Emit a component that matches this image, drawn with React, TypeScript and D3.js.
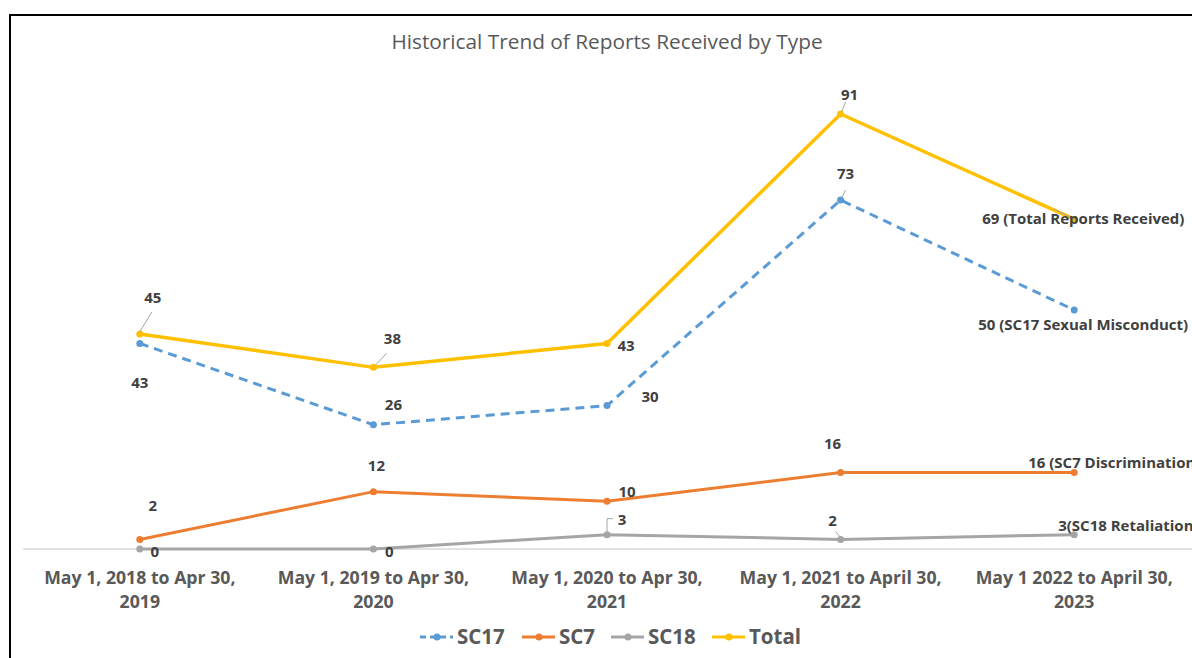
import React, { useRef, useEffect } from "react";
import * as d3 from "d3";

const categories = [
  ["May 1, 2018 to Apr 30,", "2019"],
  ["May 1, 2019 to Apr 30,", "2020"],
  ["May 1, 2020 to Apr 30,", "2021"],
  ["May 1, 2021 to April 30,", "2022"],
  ["May 1 2022 to April 30,", "2023"],
];

const sc17 = [43, 26, 30, 73, 50];
const sc7 = [2, 12, 10, 16, 16];
const sc18 = [0, 0, 3, 2, 3];
const total = [45, 38, 43, 91, 69];

const seriesNames = ["SC17", "SC7", "SC18", "Total"];
const lastLabels = [
  "50 (SC17 Sexual Misconduct)",
  "16 (SC7 Discrimination)",
  "3(SC18 Retaliation)",
  "69 (Total Reports Received)",
];

// label offsets relative to each point (dx, dy), text centered
const labelOffsets = {
  SC17: [[0, 40], [20, -20], [43, -9], [5, -26]],
  SC7: [[13, -33], [3, -26], [20, -9], [-8, -29]],
  SC18: [[15, 3], [16, 3], [15, -15], [-8, -18]],
  Total: [[13, -36], [19, -28], [19, 3], [9, -19]],
};
// end labels, start-anchored
const lastOffsets = {
  SC17: [-96, 15],
  SC7: [-46, -10],
  SC18: [-16, -9],
  Total: [-92, 0],
};

const App = () => {
  const ref = useRef<SVGSVGElement>(null);

  useEffect(() => {
    const svg = d3.select(ref.current);
    svg.selectAll("*").remove();

    const width = 1192;
    const height = 658;
    const font = "'Open Sans', 'Noto Sans', sans-serif";

    svg.attr("width", width).attr("height", height);

    svg
      .append("rect")
      .attr("width", width)
      .attr("height", height)
      .attr("fill", "#fff");

    // outer frame
    svg
      .append("rect")
      .attr("x", 10)
      .attr("y", 15)
      .attr("width", width + 20)
      .attr("height", height + 20)
      .attr("fill", "none")
      .attr("stroke", "#000")
      .attr("stroke-width", 2);

    const x = d3
      .scaleBand()
      .domain(categories.map((c, i) => String(i)))
      .range([23, 1191]);

    const cx = (i) => x(String(i)) + x.bandwidth() / 2;

    const y = d3.scaleLinear().domain([0, 100]).range([549, 71]);

    svg
      .append("text")
      .attr("x", 607)
      .attr("y", 49)
      .attr("text-anchor", "middle")
      .attr("font-family", font)
      .attr("font-size", "20.8px")
      .attr("fill", "#595959")
      .text("Historical Trend of Reports Received by Type");

    // axis line
    svg
      .append("line")
      .attr("x1", 23)
      .attr("x2", width)
      .attr("y1", y(0))
      .attr("y2", y(0))
      .attr("stroke", "#d9d9d9")
      .attr("stroke-width", 1.5);

    // category labels
    const cat = svg.append("g");
    categories.forEach((lines, i) => {
      lines.forEach((line, j) => {
        cat
          .append("text")
          .attr("x", cx(i))
          .attr("y", 584 + j * 24)
          .attr("text-anchor", "middle")
          .attr("font-family", font)
          .attr("font-size", "17.7px")
          .attr("font-weight", "bold")
          .attr("fill", "#595959")
          .text(line);
      });
    });

    const series = [
      { name: "SC17", values: sc17, color: "#5B9BD5", dash: "9,6", w: 3 },
      { name: "SC7", values: sc7, color: "#ED7D31", dash: null, w: 3 },
      { name: "SC18", values: sc18, color: "#A5A5A5", dash: null, w: 3 },
      { name: "Total", values: total, color: "#FFC000", dash: null, w: 3.5 },
    ];

    const line = d3
      .line<number>()
      .x((d, i) => cx(i))
      .y((d) => y(d));

    // draw SC18 first, then SC7, SC17, Total on top
    [2, 1, 0, 3].forEach((k) => {
      const s = series[k];
      const g = svg.append("g");
      g.append("path")
        .attr("d", line(s.values))
        .attr("fill", "none")
        .attr("stroke", s.color)
        .attr("stroke-width", s.w)
        .attr("stroke-dasharray", s.dash);
      g.selectAll("circle")
        .data(s.values)
        .join("circle")
        .attr("cx", (d, i) => cx(i))
        .attr("cy", (d) => y(d))
        .attr("r", 3.5)
        .attr("fill", s.color);
    });

    // leader lines
    const leaders = [
      [cx(0), y(45) - 2, cx(0) + 12, y(45) - 22],
      [cx(1) + 2, y(38) - 2, cx(1) + 13, y(38) - 14],
      [cx(3) + 1, y(91) - 2, cx(3) + 5, y(91) - 12],
      [cx(3) + 1, y(73) - 2, cx(3) + 5, y(73) - 10],
      [cx(3) - 5, y(2) - 8, cx(3) - 1, y(2) - 3],
      [cx(4) - 20, y(69) - 10, cx(4) + 2, y(69) + 1],
    ];
    svg
      .append("g")
      .selectAll("line")
      .data(leaders)
      .join("line")
      .attr("x1", (d) => d[0])
      .attr("y1", (d) => d[1])
      .attr("x2", (d) => d[2])
      .attr("y2", (d) => d[3])
      .attr("stroke", "#a6a6a6")
      .attr("stroke-width", 1);
    svg
      .append("path")
      .attr("d", `M${cx(2)},${y(3) - 3}V${y(3) - 16}H${cx(2) + 6}`)
      .attr("fill", "none")
      .attr("stroke", "#a6a6a6")
      .attr("stroke-width", 1);

    // data labels
    const labels = svg.append("g");
    series.forEach((s, k) => {
      s.values.forEach((v, i) => {
        const last = i === s.values.length - 1;
        const off = last ? lastOffsets[s.name] : labelOffsets[s.name][i];
        labels
          .append("text")
          .attr("x", cx(i) + off[0])
          .attr("y", y(v) + off[1] + 5)
          .attr("text-anchor", last ? "start" : "middle")
          .attr("font-family", font)
          .attr("font-size", "15px")
          .attr("font-weight", "bold")
          .attr("fill", "#404040")
          .text(last ? lastLabels[k] : String(v));
      });
    });

    // legend
    const legendX = [420, 522, 611, 712];
    const leg = svg.append("g");
    series.forEach((s, k) => {
      const lx = legendX[k];
      const ly = 637;
      leg
        .append("line")
        .attr("x1", lx)
        .attr("x2", lx + 33)
        .attr("y1", ly)
        .attr("y2", ly)
        .attr("stroke", s.color)
        .attr("stroke-width", 3)
        .attr("stroke-dasharray", s.dash ? "6,4" : null);
      leg
        .append("circle")
        .attr("cx", lx + 17)
        .attr("cy", ly)
        .attr("r", 3.5)
        .attr("fill", s.color);
      leg
        .append("text")
        .attr("x", lx + 37)
        .attr("y", ly + 7)
        .attr("font-family", font)
        .attr("font-size", "20.5px")
        .attr("font-weight", "bold")
        .attr("fill", "#595959")
        .text(seriesNames[k]);
    });
  }, []);

  return (
    <svg
      ref={ref}
      style={{ position: "absolute", left: 0, top: 0, display: "block" }}
    ></svg>
  );
};

export default App;
